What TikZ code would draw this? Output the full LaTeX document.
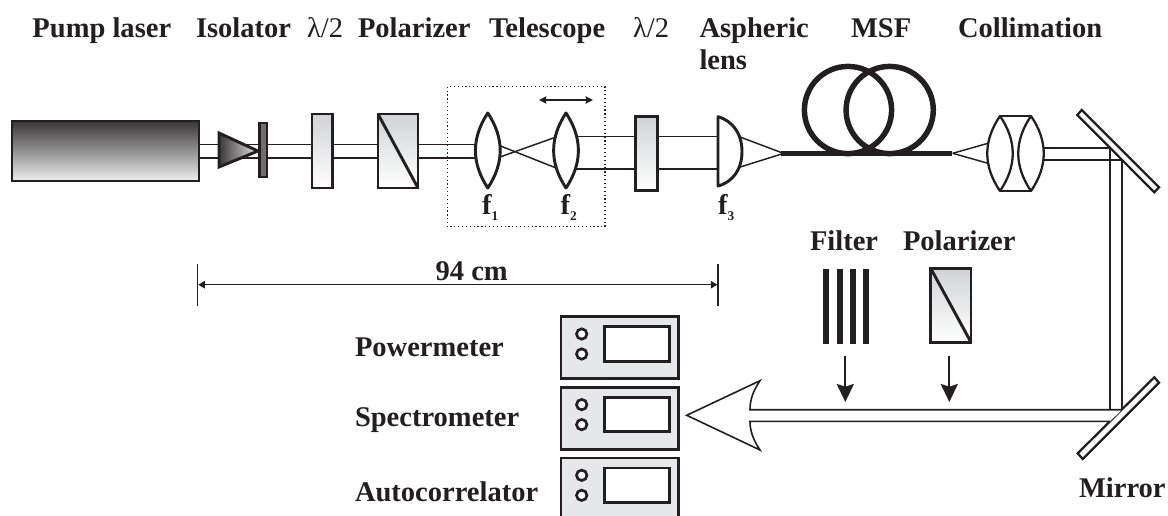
\documentclass[tikz,border=0pt]{standalone}
\usepackage{fontspec}
\setmainfont{Liberation Serif}
\usetikzlibrary{arrows.meta}
\definecolor{ink}{HTML}{231F20}
\definecolor{plate}{HTML}{D1D3D4}
\definecolor{panel}{HTML}{E6E7E8}
\newcommand{\lowsub}[1]{\raisebox{-4.5pt}{\fontsize{10pt}{10pt}\selectfont #1}}
\tikzset{
  lbl/.style={anchor=base west,inner sep=0pt,outer sep=0pt,font=\fontsize{21.4pt}{21.4pt}\selectfont\bfseries,text=ink},
  lam/.style={anchor=base west,inner sep=0pt,outer sep=0pt,font=\fontsize{21.4pt}{21.4pt}\selectfont,text=ink},
  beam/.style={draw=ink,line width=1.1pt},
  part/.style={draw=ink,line width=2.2pt,line join=miter},
  optic/.style={part,top color=plate,bottom color=white},
  glass/.style={draw=ink,line width=2.2pt,fill=white,line join=round},
  thinglass/.style={draw=ink,line width=1.7pt,fill=white,line join=round},
  mirrorbar/.style={draw=ink,line width=1.7pt,fill=white},
  panelbox/.style={draw=ink,line width=2.2pt,fill=panel},
  screenbox/.style={draw=ink,line width=2.2pt,fill=white},
  knob/.style={draw=ink,line width=2pt,fill=white},
  fibre/.style={draw=ink,line width=4.1pt},
  downarrow/.style={draw=ink,line width=1.7pt,-{Stealth[length=13.5pt,width=12.8pt,inset=2pt]}},
  dimline/.style={draw=ink,line width=1.1pt,{Triangle[length=5pt,width=5.5pt]}-{Triangle[length=5pt,width=5.5pt]}},
}
\newcommand{\biconvex}[2]{% centre x, style
  \path[#2] (#1,113) .. controls (#1-16.5,138) and (#1-16.5,163) .. (#1,188)
    .. controls (#1+16.5,163) and (#1+16.5,138) .. (#1,113) -- cycle;}
\newcommand{\instrument}[1]{% top y
  \draw[screenbox] (604.3,#1+10) rectangle (669.3,#1+44.6);
  \draw[knob] (581.7,#1+17.3) circle (5.2);
  \draw[knob] (581.7,#1+37.3) circle (5.2);}
\begin{document}
\begin{tikzpicture}[x=0.75pt,y=-0.75pt]
\path[use as bounding box,clip] (0,0) rectangle (1168,515);
\fill[white] (0,0) rectangle (1168,515);

% labels
\node[lbl] (tpump) at (32.5,37.3) {Pump laser};
\node[lbl] (tiso) at (196,37.3) {Isolator};
\node[lam] (thw1) at (307,37.3) {λ/2};
\node[lbl] (tpol1) at (358,37.3) {Polarizer};
\node[lbl] (ttel) at (489,37.3) {Telescope};
\node[lam] (thw2) at (633,37.3) {λ/2};
\node[lbl] (tasp) at (699.5,37.3) {Aspheric};
\node[lbl] (tlens) at (699.5,69.5) {lens};
\node[lbl] (tmsf) at (851,37.3) {MSF};
\node[lbl] (tcol) at (958,37.3) {Collimation};
\node[lbl] (tfilter) at (810,250) {Filter};
\node[lbl] (tpol2) at (903,250) {Polarizer};
\node[lbl] (tdist) at (435.6,280) {94 cm};
\node[lbl] (tpow) at (355,356.7) {Powermeter};
\node[lbl] (tspec) at (355,426.7) {Spectrometer};
\node[lbl] (tauto) at (355,501) {Autocorrelator};
\node[lbl] (tmirror) at (1079,497.3) {Mirror};
\node[lbl] (tf1) at (482,214) {f\lowsub{1}};
\node[lbl] (tf2) at (560.5,214) {f\lowsub{2}};
\node[lbl] (tf3) at (718,214) {f\lowsub{3}};

% telescope frame
\draw[ink,line width=0.9pt,dotted] (447.3,86.7) rectangle (605,226.7);
\draw[ink,line width=1.2pt,{Stealth[length=5.5pt,width=5.5pt,inset=0.5pt]}-{Stealth[length=5.5pt,width=5.5pt,inset=0.5pt]}] (539,100) -- (593,100);

% beams
\draw[beam] (199,144.5) -- (487,144.5);
\draw[beam] (199,158) -- (487,158);
\draw[beam] (498,145) -- (557,168.3);
\draw[beam] (498,157.7) -- (557,136.7);
\draw[beam] (575,136.7) -- (725,136.7);
\draw[beam] (575,169) -- (725,169);
\draw[beam] (738,136.2) -- (781.7,152.7);
\draw[beam] (738,167.7) -- (781.7,154);
\draw[beam] (952.7,153.3) -- (988,143.3);
\draw[beam] (952.7,153.3) -- (988,163.3);
\draw[beam] (1040,148) -- (1110,148) -- (1110,421.3);
\draw[beam] (1040,160) -- (1122,160) -- (1122,409.7);

% laser, isolator
\draw[part,top color=ink!90,bottom color=panel!70!white] (12,121) rectangle (199,181);
\draw[part,left color=ink!90,right color=panel] (219,133) -- (258,151) -- (219,167) -- cycle;
\draw[draw=ink,line width=1.8pt,fill=ink!65!white] (259.5,123) rectangle (267,177);

% half-wave plates and polarizers
\draw[optic] (312,114) rectangle (332.5,188);
\draw[optic] (378,114) rectangle (418,188);
\draw[ink,line width=2.2pt] (378,114) -- (418,188);
\draw[optic] (635.7,116.7) rectangle (657.3,190.7);
\draw[optic] (930.7,268.3) rectangle (971,342.3);
\draw[ink,line width=2.2pt] (930.7,268.3) -- (971,342.3);

% lenses
\biconvex{487.8}{glass}
\biconvex{566}{glass}
\path[glass] (718,116.7) .. controls (733,121) and (742,134) .. (742,151.5)
  .. controls (742,169) and (733,182) .. (718,186) -- cycle;

% fibre
\draw[fibre] (848,110) circle (43.6);
\draw[fibre] (889.7,110) circle (43.6);
\draw[draw=ink,line width=4.1pt] (781,153.6) -- (952,153.6);

% collimation
\draw[thinglass] (1000,116) -- (1031,116);
\draw[thinglass] (1000,191) -- (1031,191);
\path[thinglass] (1000,116) .. controls (983,141) and (983,166) .. (1000,191)
  .. controls (1017,166) and (1017,141) .. (1000,116) -- cycle;
\path[thinglass] (1031,116) .. controls (1014,141) and (1014,166) .. (1031,191)
  .. controls (1048,166) and (1048,141) .. (1031,116) -- cycle;

% mirrors
\draw[mirrorbar] (1081.7,110) -- (1077.3,115) -- (1154.3,192.3) -- (1159,187.3) -- cycle;
\draw[mirrorbar] (1154.3,377.3) -- (1159,382.7) -- (1082.7,459) -- (1077.7,453.3) -- cycle;

% output beam with arrow head
\draw[draw=ink,line width=1.2pt,fill=white,line join=miter]
  (1122,409.7) -- (750,409.7) .. controls (750,398) and (754,390) .. (760,380.7)
  -- (686.7,415.3) -- (760,450) .. controls (754,441) and (750,432) .. (750,421.3)
  -- (1110,421.3);

% filter bars
\foreach \fx in {826.3,840.2,853,866.3}
  \draw[ink,line width=4.4pt] (\fx,269) -- (\fx,344.3);

% insertion arrows
\draw[downarrow] (845.3,355.7) -- (845.3,402);
\draw[downarrow] (949.3,355.7) -- (949.3,402);

% distance
\draw[ink,line width=1.1pt] (197.7,264) -- (197.7,306);
\draw[ink,line width=1.1pt] (718,264) -- (718,306);
\draw[dimline] (198.2,284.7) -- (717.5,284.7);

% instruments
\draw[panelbox] (561,316.7) rectangle (678.3,378.7);
\instrument{316.7}
\draw[panelbox] (561,387.3) rectangle (678.3,449.3);
\instrument{387.3}
\path[fill=panel] (561,458) rectangle (678.3,520);
\draw[ink,line width=2.2pt] (561,520) -- (561,458) -- (678.3,458) -- (678.3,520);
\instrument{458}
\end{tikzpicture}
\end{document}
